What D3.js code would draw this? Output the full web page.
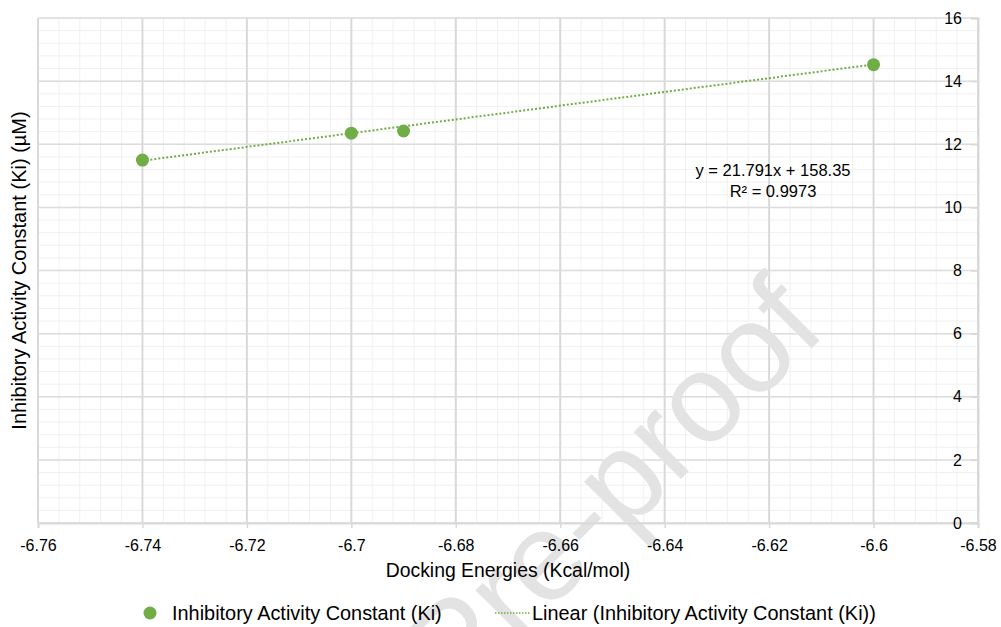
<!DOCTYPE html>
<html>
<head>
<meta charset="utf-8">
<script src="https://cdn.jsdelivr.net/npm/d3@7"></script>
<style>
  body { margin: 0; background: #fff; }
  text { font-family: "Liberation Sans", Arial, sans-serif; fill: #000; }
  text.wm { fill: #e3e3e3; }
</style>
</head>
<body>
<div class="chart"></div>
<script>
// data
var energies = [-6.74, -6.70, -6.69, -6.60];
var kiValues = [11.5, 12.35, 12.42, 14.52];
var xTicks = [-6.76, -6.74, -6.72, -6.70, -6.68, -6.66, -6.64, -6.62, -6.60, -6.58];
var yTicks = [0, 2, 4, 6, 8, 10, 12, 14, 16];
var trendSlope = 21.791;
var trendIntercept = 158.35;
var trendText = ["y = 21.791x + 158.35", "R\u00b2 = 0.9973"];
var seriesName = "Inhibitory Activity Constant (Ki)";
var trendName = "Linear (Inhibitory Activity Constant (Ki))";

var svgWidth = 1001;
var svgHeight = 627;

var margin = { top: 18, right: 23, bottom: 104, left: 38 };
var width = svgWidth - margin.left - margin.right;
var height = svgHeight - margin.top - margin.bottom;

var green = "#70ad47";

var svg = d3.select(".chart").append("svg")
    .attr("width", svgWidth).attr("height", svgHeight);

var chartGroup = svg.append("g").attr("transform", `translate(${margin.left},${margin.top})`);

var xScale = d3.scaleLinear().domain([-6.76, -6.58]).range([0, width]);
var yScale = d3.scaleLinear().domain([0, 16]).range([height, 0]);

// minor grid
var xMinor = d3.range(0, 46).map(i => -6.76 + i * 0.004);
var yMinor = d3.range(0, 41).map(i => i * 0.4);

chartGroup.append("g").selectAll("line").data(xMinor).enter().append("line")
    .attr("x1", d => xScale(d)).attr("x2", d => xScale(d))
    .attr("y1", 0).attr("y2", height)
    .attr("stroke", "#f0f0f0").attr("stroke-width", 1);
chartGroup.append("g").selectAll("line").data(yMinor).enter().append("line")
    .attr("x1", 0).attr("x2", width)
    .attr("y1", d => yScale(d)).attr("y2", d => yScale(d))
    .attr("stroke", "#f0f0f0").attr("stroke-width", 1);

// major grid
chartGroup.append("g").selectAll("line").data(xTicks).enter().append("line")
    .attr("x1", d => xScale(d)).attr("x2", d => xScale(d))
    .attr("y1", 0).attr("y2", height)
    .attr("stroke", "#d9d9d9").attr("stroke-width", 2);
chartGroup.append("g").selectAll("line").data(yTicks).enter().append("line")
    .attr("x1", 0).attr("x2", width)
    .attr("y1", d => yScale(d)).attr("y2", d => yScale(d))
    .attr("stroke", "#dcdcdc").attr("stroke-width", 1.5);

// watermark (above grid, below axes and marks)
chartGroup.append("text")
    .attr("class", "wm")
    .attr("transform", `translate(${457 - margin.left},${703 - margin.top}) rotate(-45)`)
    .attr("font-size", 126)
    .text("Pre-proof");

// axes
var fmt = d => String(+d.toFixed(2));
var bottomAxis = d3.axisBottom(xScale).tickValues(xTicks).tickFormat(fmt).tickSize(5).tickPadding(12);
var rightAxis = d3.axisLeft(yScale).tickValues(yTicks).tickFormat(d3.format("d")).tickSize(7).tickPadding(6);

var xAxis = chartGroup.append("g")
    .attr("transform", `translate(0, ${height})`)
    .call(bottomAxis);
var yAxis = chartGroup.append("g")
    .attr("transform", `translate(${width}, 0)`)
    .call(rightAxis);

[xAxis, yAxis].forEach(function(ax) {
    ax.attr("font-family", null);
    ax.select(".domain").attr("stroke", "#d9d9d9").attr("stroke-width", 2);
    ax.selectAll(".tick line").attr("stroke", "#d9d9d9").attr("stroke-width", 1.5);
    ax.selectAll(".tick text").attr("font-size", 16).attr("fill", "#000");
});
yAxis.selectAll(".tick text").attr("dx", "-3");

// trendline
var trendData = [d3.min(energies), d3.max(energies)];
chartGroup.append("line")
    .attr("x1", xScale(trendData[0])).attr("y1", yScale(trendSlope * trendData[0] + trendIntercept))
    .attr("x2", xScale(trendData[1])).attr("y2", yScale(trendSlope * trendData[1] + trendIntercept))
    .attr("stroke", green).attr("stroke-width", 2).attr("stroke-dasharray", "2,2");

// points
chartGroup.selectAll("circle.pt")
    .data(energies).enter().append("circle")
    .attr("class", "pt")
    .attr("cx", d => xScale(d))
    .attr("cy", (d, i) => yScale(kiValues[i]))
    .attr("r", 6.5).attr("fill", green);

// equation label
var eqX = 773 - margin.left;
var eq = chartGroup.append("text")
    .attr("x", eqX).attr("y", 176 - margin.top)
    .attr("text-anchor", "middle")
    .attr("font-size", 16.5);
eq.selectAll("tspan").data(trendText).enter().append("tspan")
    .attr("x", eqX)
    .attr("dy", (d, i) => i === 0 ? 0 : 21)
    .text(d => d);

// axis titles
svg.append("text")
    .attr("x", 508).attr("y", 577)
    .attr("text-anchor", "middle")
    .attr("font-size", 19.4)
    .text("Docking Energies (Kcal/mol)");

svg.append("text")
    .attr("transform", "rotate(-90)")
    .attr("x", -(margin.top + height / 2))
    .attr("y", 26)
    .attr("text-anchor", "middle")
    .attr("font-size", 20)
    .text("Inhibitory Activity Constant (Ki) (\u00b5M)");

// legend
var legend = svg.append("g").attr("transform", "translate(0, 613)");
legend.append("circle").attr("cx", 150).attr("cy", 0).attr("r", 6.5).attr("fill", green);
legend.append("text").attr("x", 172).attr("y", 7).attr("font-size", 19.9).text(seriesName);
legend.append("line").attr("x1", 495).attr("x2", 530).attr("y1", 0).attr("y2", 0)
    .attr("stroke", green).attr("stroke-width", 1.5).attr("stroke-dasharray", "1.5,1.5");
legend.append("text").attr("x", 532).attr("y", 7).attr("font-size", 19.9).text(trendName);
</script>
</body>
</html>
